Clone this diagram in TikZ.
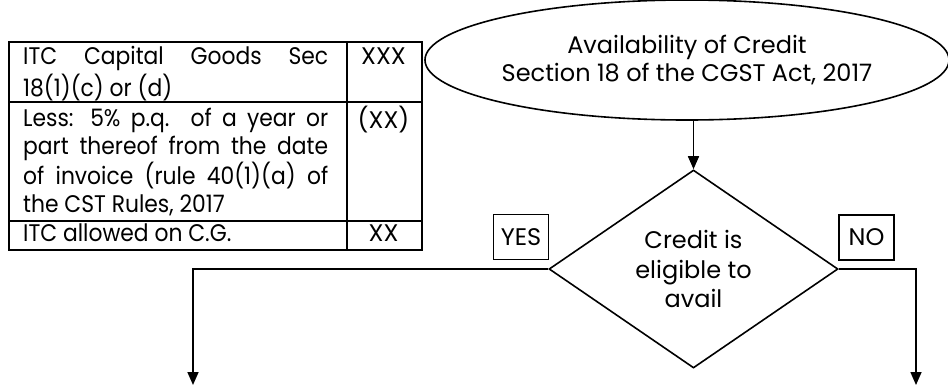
\documentclass[tikz,border=0pt]{standalone}
\usepackage{fontspec}
\setmainfont{Poppins}
\newfontfamily\tabfont{Poppins}[FakeStretch=0.91]
\usetikzlibrary{shapes.geometric,arrows.meta}
\tikzset{
  ln/.style={line width=1.6pt},
  cell/.style={draw, ln, anchor=north west, inner sep=0pt},
  lbox/.style={draw, ln, inner sep=0pt, minimum width=55pt, minimum height=45pt},
  conn/.style={ln, -{Triangle[width=11pt,length=13pt]}},
  txt/.style={font=\fontsize{24}{28.5}\selectfont},
  ctext/.style={font=\fontsize{24}{28.5}\selectfont\tabfont, align=left, anchor=north west, inner sep=0pt},
  rtext/.style={txt, anchor=north, inner sep=0pt},
}
\newcommand{\jline}[1]{\makebox[305pt][s]{#1}}
\newcommand{\lline}[1]{\makebox[305pt][l]{#1}}
\begin{document}
\begin{tikzpicture}[x=1pt,y=-1pt]
\useasboundingbox (0,0) rectangle (948,386);
% table
\node[cell, minimum width=338pt, minimum height=60pt] (c11) at (8,41) {};
\node[cell, minimum width=75pt, minimum height=60pt] (c12) at (346,41) {};
\node[cell, minimum width=338pt, minimum height=119pt] (c21) at (8,101) {};
\node[cell, minimum width=75pt, minimum height=119pt] (c22) at (346,101) {};
\node[cell, minimum width=338pt, minimum height=29pt] (c31) at (8,220) {};
\node[cell, minimum width=75pt, minimum height=29pt] (c32) at (346,220) {};
\node[ctext] (t11) at (23,44.5) {\strut\jline{ITC Capital Goods Sec}\\\lline{18(1)(c) or (d)}};
\node[ctext] (t21) at (23,106) {\strut\jline{Less: 5\% p.q. of a year or}\\\jline{part thereof from the date}\\\jline{of invoice (rule 40(1)(a) of}\\\lline{the CST Rules, 2017}};
\node[ctext] (t31) at (23,221.5) {\strut\lline{ITC allowed on C.G.}};
\node[rtext] (t12) at (383.5,44.5) {\strut XXX};
\node[rtext] (t22) at (383.5,106) {\strut(XX)};
\node[rtext] (t32) at (383.5,221.5) {\strut XX};
% ellipse
\node[ellipse, draw, ln, minimum width=520pt, minimum height=120pt, inner sep=0pt, txt, align=center] (e) at (687,60) {Availability of Credit\\Section 18 of the CGST Act, 2017};
% diamond
\node[diamond, draw, ln, minimum width=289pt, minimum height=198pt, inner sep=0pt, font=\fontsize{24}{29.5}\selectfont, align=center] (d) at (693.5,269) {Credit is\\eligible to\\avail};
\node[lbox, txt] (yes) at (521,237) {YES};
\node[lbox, txt] (no) at (866.5,237.5) {NO};
\coordinate (yend) at (193,385);
\coordinate (nend) at (916,385);
\draw[conn] (d.north |- e.south) -- (d.north);
\draw[conn] (d.west) -| (yend);
\draw[conn] (d.east) -| (nend);
\end{tikzpicture}
\end{document}
